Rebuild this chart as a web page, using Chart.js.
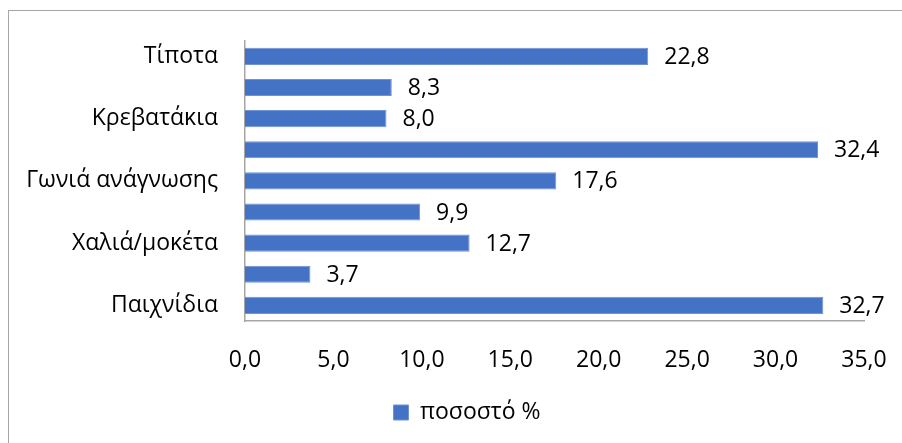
<!DOCTYPE html>
<html><head><meta charset="utf-8">
<script src="https://cdn.jsdelivr.net/npm/chart.js@4"></script>
<style>
html,body{margin:0;padding:0;background:#fff;overflow:hidden;width:902px;height:443px}
#frame{position:absolute;left:8px;top:10px;width:1000px;height:1000px;border:1.5px solid #A6A6A6;box-sizing:border-box}
#wrap{position:absolute;left:0;top:0;width:902px;height:443px}
</style></head><body>
<div id="frame"></div>
<div id="wrap"><canvas id="c" width="902" height="443"></canvas></div>
<script>
const categories = ['Τίποτα', '', 'Κρεβατάκια', '', 'Γωνιά ανάγνωσης', '', 'Χαλιά/μοκέτα', '', 'Παιχνίδια'];
const values = [22.8, 8.3, 8.0, 32.4, 17.6, 9.9, 12.7, 3.7, 32.7];
const seriesName = 'ποσοστό %';
const xMin = 0, xMax = 35, xStep = 5;

const FONT = "'Open Sans', sans-serif";
const FSIZE = 23;
const fmt = v => Number(v).toFixed(1).replace('.', ',');

const dataLabels = {
  id: 'dataLabels',
  afterDatasetsDraw(chart) {
    const ctx = chart.ctx;
    ctx.save();
    ctx.font = FSIZE + 'px ' + FONT;
    ctx.fillStyle = '#000';
    ctx.textAlign = 'left';
    ctx.textBaseline = 'middle';
    chart.getDatasetMeta(0).data.forEach((el, i) => {
      ctx.fillText(fmt(chart.data.datasets[0].data[i]), el.x + 16, el.y + 1);
    });
    ctx.restore();
  }
};

// place the legend slightly right of the canvas centre, as in the source chart
const legendShift = {
  id: 'legendShift',
  afterLayout(chart) {
    const lg = chart.legend;
    if (!lg) return;
    const target = chart.width / 2 + 16;
    const cur = (lg.left + lg.right) / 2;
    const d = target - cur;
    lg.left += d; lg.right += d;
  }
};

new Chart(document.getElementById('c'), {
  type: 'bar',
  data: {
    labels: categories,
    datasets: [{
      label: seriesName,
      data: values,
      backgroundColor: '#4472C4',
      borderColor: '#6F93D6',
      borderWidth: 1,
      barPercentage: 0.55,
      categoryPercentage: 1.0
    }]
  },
  options: {
    indexAxis: 'y',
    responsive: false,
    animation: false,
    layout: { padding: { left: 0, right: 38, top: 40, bottom: 9 } },
    font: { family: FONT },
    scales: {
      x: {
        min: xMin, max: xMax,
        ticks: { stepSize: xStep, color: '#000', font: { family: FONT, size: FSIZE }, padding: 0, callback: v => fmt(v) },
        grid: { display: false, drawTicks: true, tickLength: 26 },
        border: { display: true, color: '#A6A6A6', width: 1.5 },
        afterFit: s => { s.height = 70; }
      },
      y: {
        ticks: { color: '#000', font: { family: FONT, size: FSIZE }, padding: 27, autoSkip: false },
        grid: { display: false, drawTicks: false },
        border: { display: true, color: '#A6A6A6', width: 1.5 },
        afterFit: s => { s.width = 245; }
      }
    },
    plugins: {
      legend: {
        position: 'bottom',
        labels: { color: '#000', font: { family: FONT, size: FSIZE }, boxWidth: 15, boxHeight: 15, padding: 10 }
      },
      tooltip: { enabled: false }
    }
  },
  plugins: [dataLabels, legendShift]
});
</script>
</body></html>
